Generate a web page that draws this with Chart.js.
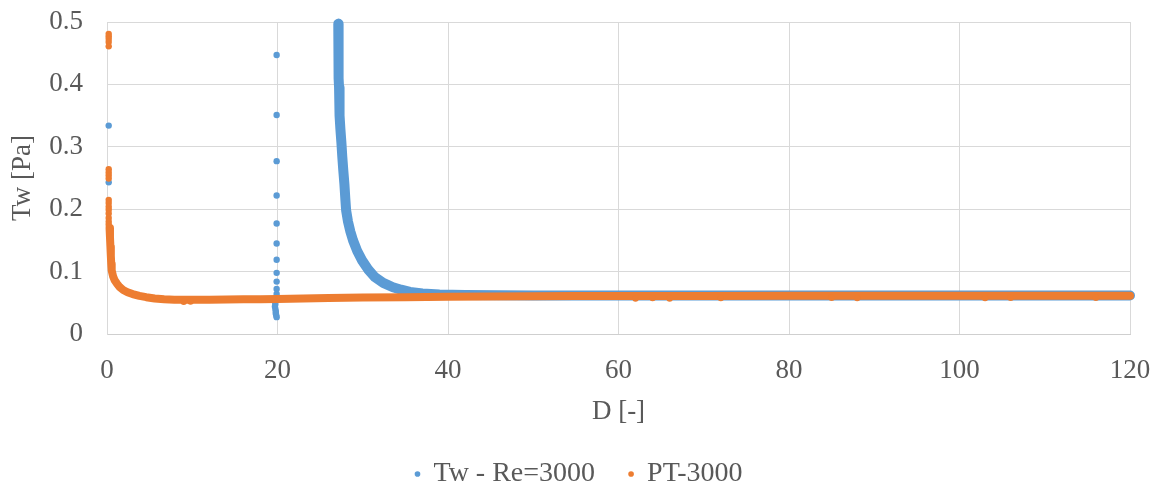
<!DOCTYPE html>
<html>
<head>
<meta charset="utf-8">
<script src="https://cdn.jsdelivr.net/npm/chart.js@4.4.1/dist/chart.umd.min.js"></script>
<style>
html,body{margin:0;padding:0;background:#ffffff;}
#wrap{width:1158px;height:488px;position:relative;}
</style>
</head>
<body>
<div id="wrap"><canvas id="c" width="1158" height="488"></canvas></div>
<script>
// ---- data ----
const seriesNames = ['Tw - Re=3000', 'PT-3000'];
const xTicks = [0, 20, 40, 60, 80, 100, 120];
const yTicks = [0, 0.1, 0.2, 0.3, 0.4, 0.5];
const xTitle = 'D [-]';
const yTitle = 'Tw [Pa]';

// Tw - Re=3000 : isolated markers (near D=0 and the column at D~20)
const blueDotsX = [0.2, 0.2,
  19.9, 19.9, 19.9, 19.9, 19.9, 19.9, 19.9, 19.9, 19.9, 19.9, 19.9,
  19.75, 19.7, 19.75, 19.7, 19.75, 19.8, 19.8, 19.85, 19.9];
const blueDotsY = [0.334, 0.243,
  0.447, 0.351, 0.277, 0.222, 0.177, 0.145, 0.119, 0.098, 0.084, 0.072, 0.064,
  0.056, 0.052, 0.048, 0.044, 0.040, 0.036, 0.033, 0.030, 0.027];

// Tw - Re=3000 : dense part of the series (drawn as a thick band)
const blueCurveX = [27.13, 27.14, 27.15, 27.16, 27.17, 27.18, 27.2, 27.22, 27.26, 27.3,
  27.38, 27.5, 27.6, 27.72, 27.85, 27.95, 28.05, 28.27, 28.55, 28.86,
  29.35, 29.92, 30.6, 31.43, 32.4, 33.54, 34.5, 35.54, 37, 39,
  42, 46, 50, 60, 70, 80, 90, 100, 110, 120];
const blueCurveY = [0.497, 0.485, 0.470, 0.455, 0.440, 0.425, 0.410, 0.395, 0.372, 0.350,
  0.328, 0.306, 0.284, 0.262, 0.240, 0.218, 0.198, 0.180, 0.164, 0.150,
  0.133, 0.118, 0.104, 0.091, 0.082, 0.075, 0.071, 0.0675, 0.065, 0.0635,
  0.0625, 0.062, 0.0617, 0.0617, 0.0617, 0.0617, 0.0617, 0.0617, 0.0617, 0.0617];

// PT-3000 : isolated markers (spike at D~0 and scattered low points)
const orangeDotsX = [0.2, 0.2, 0.2, 0.2, 0.2, 0.2, 0.2, 0.2, 0.2,
  0.2, 0.2, 0.2, 0.2, 0.2, 0.2, 0.2, 0.2,
  9, 9.8, 62, 64, 66, 72, 85, 88, 103, 106, 116];
const orangeDotsY = [0.481, 0.477, 0.473, 0.468, 0.461, 0.264, 0.259, 0.254, 0.249,
  0.215, 0.210, 0.204, 0.199, 0.193, 0.186, 0.180, 0.175,
  0.0515, 0.052, 0.057, 0.0575, 0.057, 0.0575, 0.058, 0.0575, 0.0575, 0.058, 0.058];

// PT-3000 : dense part of the series
const orangeCurveX = [0.3, 0.35, 0.4, 0.45, 0.5, 0.55, 0.7, 0.9, 1.2, 1.5,
  1.9, 2.4, 3.0, 3.8, 4.6, 5.6, 6.7, 7.9, 10, 12,
  14, 16, 18, 20, 23, 26, 30, 35, 40, 45,
  50, 55, 60, 70, 80, 90, 100, 110, 120];
const orangeCurveY = [0.170, 0.155, 0.140, 0.125, 0.112, 0.102, 0.093, 0.086, 0.080, 0.075,
  0.0705, 0.067, 0.064, 0.061, 0.059, 0.057, 0.0558, 0.055, 0.0548, 0.055,
  0.0552, 0.0555, 0.0558, 0.0562, 0.0568, 0.0575, 0.0583, 0.059, 0.0597, 0.0602,
  0.0605, 0.0607, 0.061, 0.061, 0.0612, 0.0612, 0.0612, 0.0613, 0.0613];

// ---- chart ----
const BLUE = '#5B9BD5';
const ORANGE = '#ED7D31';
const GRID = '#D9D9D9';
const TEXT = '#595959';
const FONT = "'Liberation Serif', 'Times New Roman', Times, serif";

function pts(xs, ys) { return xs.map((x, i) => ({ x: x, y: ys[i] })); }

Chart.defaults.font.family = FONT;
Chart.defaults.color = TEXT;

new Chart(document.getElementById('c'), {
  type: 'scatter',
  data: {
    datasets: [
      { label: seriesNames[0], data: pts(blueDotsX, blueDotsY), showLine: false,
        backgroundColor: BLUE, borderColor: BLUE, borderWidth: 0,
        pointRadius: 3.2, pointBorderWidth: 0, pointBackgroundColor: BLUE, order: 1, clip: false },
      { label: seriesNames[0] + ' band', data: pts(blueCurveX, blueCurveY), showLine: true,
        borderColor: BLUE, backgroundColor: BLUE, borderWidth: 10, tension: 0,
        borderJoinStyle: 'round', borderCapStyle: 'round',
        pointRadius: 0, pointBorderWidth: 0, pointBackgroundColor: BLUE, order: 1, clip: false },
      { label: seriesNames[1], data: pts(orangeDotsX, orangeDotsY), showLine: false,
        backgroundColor: ORANGE, borderColor: ORANGE, borderWidth: 0,
        pointRadius: 3.2, pointBorderWidth: 0, pointBackgroundColor: ORANGE, order: 0, clip: false },
      { label: seriesNames[1] + ' band', data: pts(orangeCurveX, orangeCurveY), showLine: true,
        borderColor: ORANGE, backgroundColor: ORANGE, borderWidth: 8, tension: 0,
        borderJoinStyle: 'round', borderCapStyle: 'round',
        pointRadius: 0, pointBorderWidth: 0, pointBackgroundColor: ORANGE, order: 0, clip: false }
    ]
  },
  options: {
    responsive: false,
    animation: false,
    events: [],
    layout: { padding: { top: 22, right: 28, left: 28, bottom: -10 } },
    plugins: {
      tooltip: { enabled: false },
      legend: {
        position: 'bottom',
        labels: {
          filter: (item) => item.datasetIndex === 0 || item.datasetIndex === 2,
          sort: (a, b) => a.datasetIndex - b.datasetIndex,
          usePointStyle: true,
          pointStyle: 'circle',
          boxWidth: 4,
          boxHeight: 4,
          padding: 34,
          color: TEXT,
          font: { size: 28, family: FONT }
        }
      }
    },
    scales: {
      x: {
        type: 'linear',
        min: 0, max: 120,
        afterBuildTicks: (s) => { s.ticks = xTicks.map(v => ({ value: v })); },
        afterFit: (s) => { s.height = 92; },
        grid: { color: GRID, lineWidth: 1, drawTicks: true, tickLength: 21, tickColor: 'rgba(0,0,0,0)' },
        border: { color: '#CFCFCF', width: 1 },
        ticks: { padding: 0, color: TEXT, font: { size: 27, family: FONT },
                 callback: (v) => String(v), maxRotation: 0 },
        title: { display: true, text: xTitle, color: TEXT, font: { size: 27, family: FONT },
                 padding: { top: 0, bottom: -2 } }
      },
      y: {
        type: 'linear',
        min: 0, max: 0.5,
        afterBuildTicks: (s) => { s.ticks = yTicks.map(v => ({ value: v })); },
        afterFit: (s) => { s.width = 79; },
        grid: { color: GRID, lineWidth: 1, drawTicks: true, tickLength: 24, tickColor: 'rgba(0,0,0,0)' },
        border: { color: GRID, width: 1 },
        ticks: { padding: 0, color: TEXT, font: { size: 27, family: FONT },
                 callback: (v) => String(v) },
        title: { display: true, text: yTitle, color: TEXT, font: { size: 27, family: FONT },
                 padding: { top: -21, bottom: 0 } }
      }
    }
  }
});
</script>
</body>
</html>
